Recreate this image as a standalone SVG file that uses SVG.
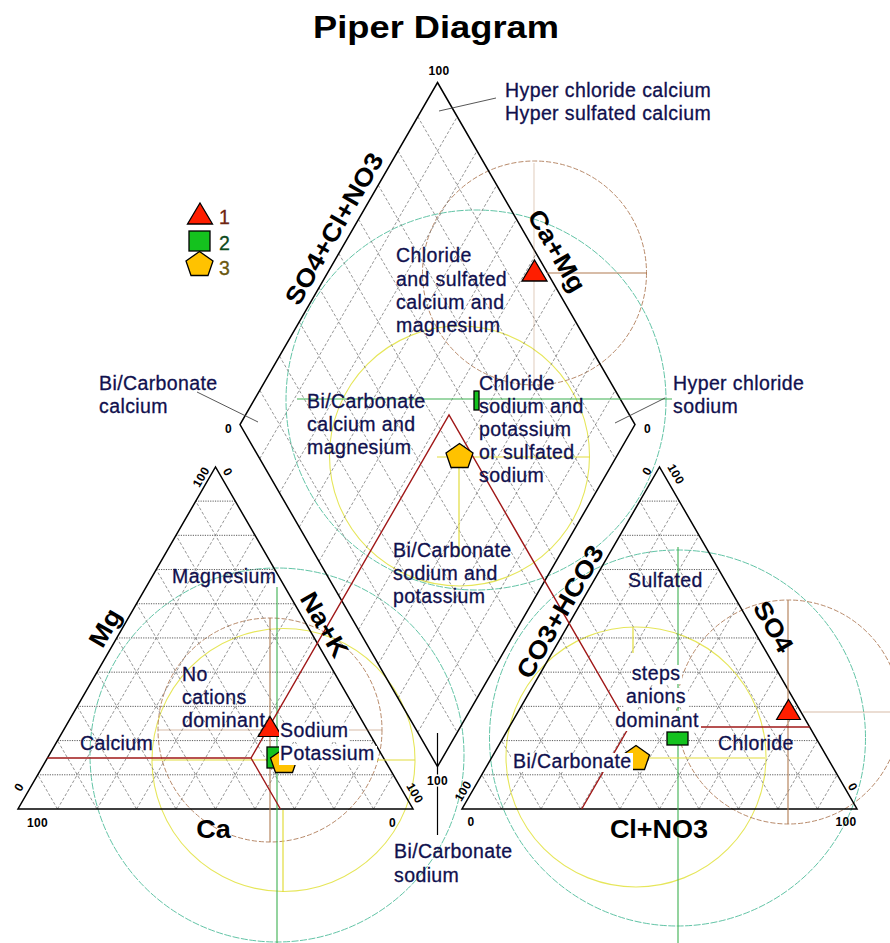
<svg xmlns="http://www.w3.org/2000/svg" xmlns:xlink="http://www.w3.org/1999/xlink" width="890" height="943" viewBox="0 0 890 943">
<style>
.bg{fill:#ffffff}
.outline{fill:none;stroke:#000;stroke-width:1.5;stroke-linejoin:miter}
.hgrid{stroke:#4a4a4a;stroke-width:0.9;stroke-dasharray:1.2,1.2;fill:none}
.dgrid{stroke:#7a7a7a;stroke-width:0.8;stroke-dasharray:3,2;fill:none}
.lbl{font-family:"Liberation Sans",Arial,Helvetica,sans-serif;font-size:19.5px;letter-spacing:0.4px;fill:#10104e;stroke:#10104e;stroke-width:0.3px}
.axis{font-family:"Liberation Sans",Arial,Helvetica,sans-serif;font-size:25px;font-weight:bold;fill:#000}
.num{font-family:"Liberation Sans",Arial,Helvetica,sans-serif;font-size:12px;font-weight:bold;fill:#000;letter-spacing:0.4px}
.title{font-family:"Liberation Sans",Arial,Helvetica,sans-serif;font-size:31px;font-weight:bold;fill:#000}
.leader{stroke:#444;stroke-width:0.9;fill:none}
.proj{stroke:#a01818;stroke-width:1.4;fill:none}
.cbrown{fill:none;stroke:#b88a6a;stroke-width:1;stroke-dasharray:5,2}
.cgreen{fill:none;stroke:#62c4a6;stroke-width:1;stroke-dasharray:7,1.5}
.cyellow{fill:none;stroke:#e6e65a;stroke-width:1.1}
.lbrown{stroke:#b07a50;stroke-width:1.1;fill:none}
.lgreen{stroke:#3cb050;stroke-width:1.1;fill:none}
.lyellow{stroke:#e2dc3c;stroke-width:1.2;fill:none}
.tri{fill:#ff1e00;stroke:#000;stroke-width:1.3}
.sq{fill:#14c21e;stroke:#000;stroke-width:1.3}
.pent{fill:#ffc200;stroke:#000;stroke-width:1.3}
.box{fill:#ffffff}
</style>
<defs>
<g id="tgrid">
<path class="hgrid" d="M19.75,-34.21H375.25M39.5,-68.42H355.5M59.25,-102.63H335.75M79,-136.84H316M98.75,-171.05H296.25M118.5,-205.26H276.5M138.25,-239.47H256.75M158,-273.68H237M177.75,-307.89H217.25"/>
<path class="dgrid" d="M39.5,0L217.25,-307.89M79,0L237,-273.68M118.5,0L256.75,-239.47M158,0L276.5,-205.26M197.5,0L296.25,-171.05M237,0L316,-136.84M276.5,0L335.75,-102.63M316,0L355.5,-68.42M355.5,0L375.25,-34.21"/>
<path class="dgrid" d="M39.5,0L19.75,-34.21M79,0L39.5,-68.42M118.5,0L59.25,-102.63M158,0L79,-136.84M197.5,0L98.75,-171.05M237,0L118.5,-205.26M276.5,0L138.25,-239.47M316,0L158,-273.68M355.5,0L177.75,-307.89"/>
<path class="outline" d="M0,0H395L197.5,-342.1Z"/>
</g>
<polygon id="mtri" points="0,-11 12.5,10 -12.5,10"/>
<polygon id="mpent" points="0,-12.5 13.5,-3 8.5,11.5 -8.5,11.5 -13.5,-3"/>
</defs>
<rect class="bg" x="0" y="0" width="890" height="943"/>

<g id="circles">
<circle class="cgreen" cx="277" cy="755" r="187"/>
<circle class="cyellow" cx="283.5" cy="760" r="131.5"/>
<circle class="cbrown" cx="270" cy="730" r="112"/>
<circle class="cgreen" cx="476" cy="400" r="190"/>
<circle class="cyellow" cx="459.5" cy="456" r="130"/>
<circle class="cbrown" cx="534.5" cy="273" r="112"/>
<circle class="cgreen" cx="677.5" cy="738" r="188"/>
<circle class="cyellow" cx="636" cy="757" r="130"/>
<circle class="cbrown" cx="788.5" cy="712" r="112"/>
</g>

<g id="left-triangle">
<use xlink:href="#tgrid" href="#tgrid" transform="translate(18,809)"/>
</g>
<g id="right-triangle">
<use xlink:href="#tgrid" href="#tgrid" transform="translate(462,809)"/>
</g>
<g id="diamond">
<path class="dgrid" d="M259.75,390.29L457.25,732.39M279.5,356.08L477,698.18M299.25,321.87L496.75,663.97M319,287.66L516.5,629.76M338.75,253.45L536.25,595.55M358.5,219.24L556,561.34M378.25,185.03L575.75,527.13M398,150.82L595.5,492.92M417.75,116.61L615.25,458.71"/>
<path class="dgrid" d="M259.75,458.71L457.25,116.71M279.5,492.92L477,150.92M299.25,527.13L496.75,185.13M319,561.34L516.5,219.34M338.75,595.55L536.25,253.55M358.5,629.76L556,287.76M378.25,663.97L575.75,321.97M398,698.18L595.5,356.18M417.75,732.39L615.25,390.39"/>
<path class="outline" d="M437.5,82.5L635,424.5L437.5,766.6L240,424.5Z"/>
</g>

<g id="connectors">
<line class="lbrown" x1="270" y1="618" x2="270" y2="842"/>
<line class="lbrown" x1="158" y1="730" x2="382" y2="730" stroke-opacity="0.5"/>
<line class="lgreen" x1="277" y1="587" x2="277" y2="943"/>
<line class="lyellow" x1="152" y1="760" x2="415" y2="760"/>
<line class="lyellow" x1="283" y1="810" x2="283" y2="892"/>
<line class="lbrown" x1="534" y1="163" x2="534" y2="385" stroke-opacity="0.35"/>
<line class="lbrown" x1="547" y1="273" x2="647" y2="273"/>
<line class="lgreen" x1="297" y1="399" x2="672" y2="399"/>
<line class="lyellow" x1="437" y1="457" x2="590" y2="457"/>
<line class="lyellow" x1="459" y1="468" x2="459" y2="557"/>
<line class="lbrown" x1="788" y1="600" x2="788" y2="824" stroke="#c87a6a"/>
<line class="lbrown" x1="803" y1="712" x2="890" y2="712" stroke-opacity="0.5"/>
<line class="lgreen" x1="678" y1="547" x2="678" y2="943"/>
<line class="lyellow" x1="647" y1="758" x2="765" y2="758"/>
<line class="lyellow" x1="633" y1="627" x2="633" y2="653"/>
<path class="proj" d="M47.4,758H251L449,415L629,727H809.7M251,758L280.4,809M629,727L581.7,809"/>
<line class="leader" x1="439" y1="111" x2="496" y2="98"/>
<line class="leader" x1="197" y1="392" x2="258" y2="422"/>
<line class="leader" x1="665" y1="398" x2="615" y2="423"/>
<line stroke="#000" stroke-width="1.2" x1="437.5" y1="733" x2="437.5" y2="835"/>
</g>

<g id="markers">
<use href="#mtri" xlink:href="#mtri" class="tri" transform="translate(534.5,271)"/>
<rect class="sq" x="474" y="391" width="5" height="19"/>
<use href="#mpent" xlink:href="#mpent" class="pent" transform="translate(459.5,456)"/>
<use href="#mtri" xlink:href="#mtri" class="tri" transform="translate(270,727) scale(0.95)"/>
<rect class="sq" x="267" y="747" width="21" height="21"/>
<use href="#mpent" xlink:href="#mpent" class="pent" transform="translate(284,761)"/>
<use href="#mtri" xlink:href="#mtri" class="tri" transform="translate(788.5,710) scale(0.95)"/>
<rect class="sq" x="667" y="732" width="21" height="13"/>
<use href="#mpent" xlink:href="#mpent" class="pent" transform="translate(636,758)"/>
</g>

<g id="legend">
<use href="#mtri" xlink:href="#mtri" class="tri" transform="translate(200,214)"/>
<rect class="sq" x="189" y="231" width="21" height="20"/>
<use href="#mpent" xlink:href="#mpent" class="pent" transform="translate(199.5,264)"/>
<text class="lbl" x="219" y="224" style="fill:#6e2410;stroke:#6e2410">1</text>
<text class="lbl" x="219" y="250" style="fill:#0c4a1c;stroke:#0c4a1c">2</text>
<text class="lbl" x="219" y="275" style="fill:#6a5810;stroke:#6a5810">3</text>
</g>

<g id="boxes">
<rect class="box" x="279" y="723" width="70" height="19"/>
<rect class="box" x="279" y="746" width="98" height="19"/>
<rect class="box" x="511" y="753" width="122" height="19"/>
<rect class="box" x="631" y="665" width="51" height="19"/>
<rect class="box" x="624" y="688" width="64" height="19"/>
<rect class="box" x="614" y="711" width="87" height="20"/>
</g>

<g id="title">
<text class="title" text-anchor="middle" transform="translate(436,38) scale(1.17,1)">Piper Diagram</text>
</g>

<g id="axis-labels">
<text class="axis" text-anchor="middle" transform="translate(341.5,233) rotate(-60) scale(1.1,1)">SO4+Cl+NO3</text>
<text class="axis" text-anchor="middle" transform="translate(549.5,255) rotate(60) scale(1.1,1)">Ca+Mg</text>
<text class="axis" text-anchor="middle" transform="translate(112.5,632) rotate(-60) scale(1.1,1)">Mg</text>
<text class="axis" text-anchor="middle" transform="translate(317,629) rotate(60) scale(1.1,1)">Na+K</text>
<text class="axis" text-anchor="middle" transform="translate(213.5,838) scale(1.08,1)">Ca</text>
<text class="axis" text-anchor="middle" transform="translate(567.5,616) rotate(-60) scale(1.1,1)">CO3+HCO3</text>
<text class="axis" text-anchor="middle" transform="translate(766,631) rotate(60) scale(1.1,1)">SO4</text>
<text class="axis" text-anchor="middle" transform="translate(659,838) scale(1.08,1)">Cl+NO3</text>
</g>

<g id="scale-numbers">
<text class="num" text-anchor="middle" x="439" y="75">100</text>
<text class="num" text-anchor="middle" x="228.5" y="433">0</text>
<text class="num" text-anchor="middle" x="647.5" y="433">0</text>
<text class="num" text-anchor="middle" x="437.5" y="785" stroke="#fff" stroke-width="3" paint-order="stroke">100</text>
<text class="num" text-anchor="middle" x="37.5" y="827">100</text>
<text class="num" text-anchor="middle" x="392.5" y="827">0</text>
<text class="num" text-anchor="middle" transform="translate(19,787) rotate(-60)" dy="0.35em">0</text>
<text class="num" text-anchor="middle" transform="translate(415,793) rotate(60)" dy="0.35em">100</text>
<text class="num" text-anchor="middle" transform="translate(201,477) rotate(-60)" dy="0.35em">100</text>
<text class="num" text-anchor="middle" transform="translate(228,472) rotate(60)" dy="0.35em">0</text>
<text class="num" text-anchor="middle" transform="translate(647,471) rotate(-60)" dy="0.35em">0</text>
<text class="num" text-anchor="middle" transform="translate(676,474) rotate(60)" dy="0.35em">100</text>
<text class="num" text-anchor="middle" transform="translate(463,791) rotate(-60)" dy="0.35em">100</text>
<text class="num" text-anchor="middle" x="471" y="826">0</text>
<text class="num" text-anchor="middle" transform="translate(853,787) rotate(60)" dy="0.35em">0</text>
<text class="num" text-anchor="middle" x="846" y="826">100</text>
</g>

<g id="zone-labels">
<text class="lbl" x="505" y="97">Hyper chloride calcium</text>
<text class="lbl" x="505" y="120">Hyper sulfated calcium</text>
<text class="lbl" x="396" y="262">Chloride</text>
<text class="lbl" x="396" y="285.5">and sulfated</text>
<text class="lbl" x="396" y="309">calcium and</text>
<text class="lbl" x="396" y="332">magnesium</text>
<text class="lbl" x="99" y="390">Bi/Carbonate</text>
<text class="lbl" x="99" y="413">calcium</text>
<text class="lbl" x="307" y="408">Bi/Carbonate</text>
<text class="lbl" x="307" y="431">calcium and</text>
<text class="lbl" x="307" y="454">magnesium</text>
<text class="lbl" x="479" y="390">Chloride</text>
<text class="lbl" x="479" y="413">sodium and</text>
<text class="lbl" x="479" y="436">potassium</text>
<text class="lbl" x="479" y="459">or sulfated</text>
<text class="lbl" x="479" y="482">sodium</text>
<text class="lbl" x="673" y="390">Hyper chloride</text>
<text class="lbl" x="673" y="413">sodium</text>
<text class="lbl" x="393" y="557">Bi/Carbonate</text>
<text class="lbl" x="393" y="580">sodium and</text>
<text class="lbl" x="393" y="603">potassium</text>
<text class="lbl" x="172" y="583">Magnesium</text>
<text class="lbl" x="182" y="681">No</text>
<text class="lbl" x="182" y="704">cations</text>
<text class="lbl" x="182" y="727">dominant</text>
<text class="lbl" x="80" y="750">Calcium</text>
<text class="lbl" x="280" y="737">Sodium</text>
<text class="lbl" x="280" y="760">Potassium</text>
<text class="lbl" x="628" y="587">Sulfated</text>
<text class="lbl" x="656" y="680" text-anchor="middle">steps</text>
<text class="lbl" x="656" y="703" text-anchor="middle">anions</text>
<text class="lbl" x="657" y="727" text-anchor="middle">dominant</text>
<text class="lbl" x="718" y="750">Chloride</text>
<text class="lbl" x="513" y="768">Bi/Carbonate</text>
<text class="lbl" x="394" y="858">Bi/Carbonate</text>
<text class="lbl" x="394" y="882">sodium</text>
</g>
</svg>
